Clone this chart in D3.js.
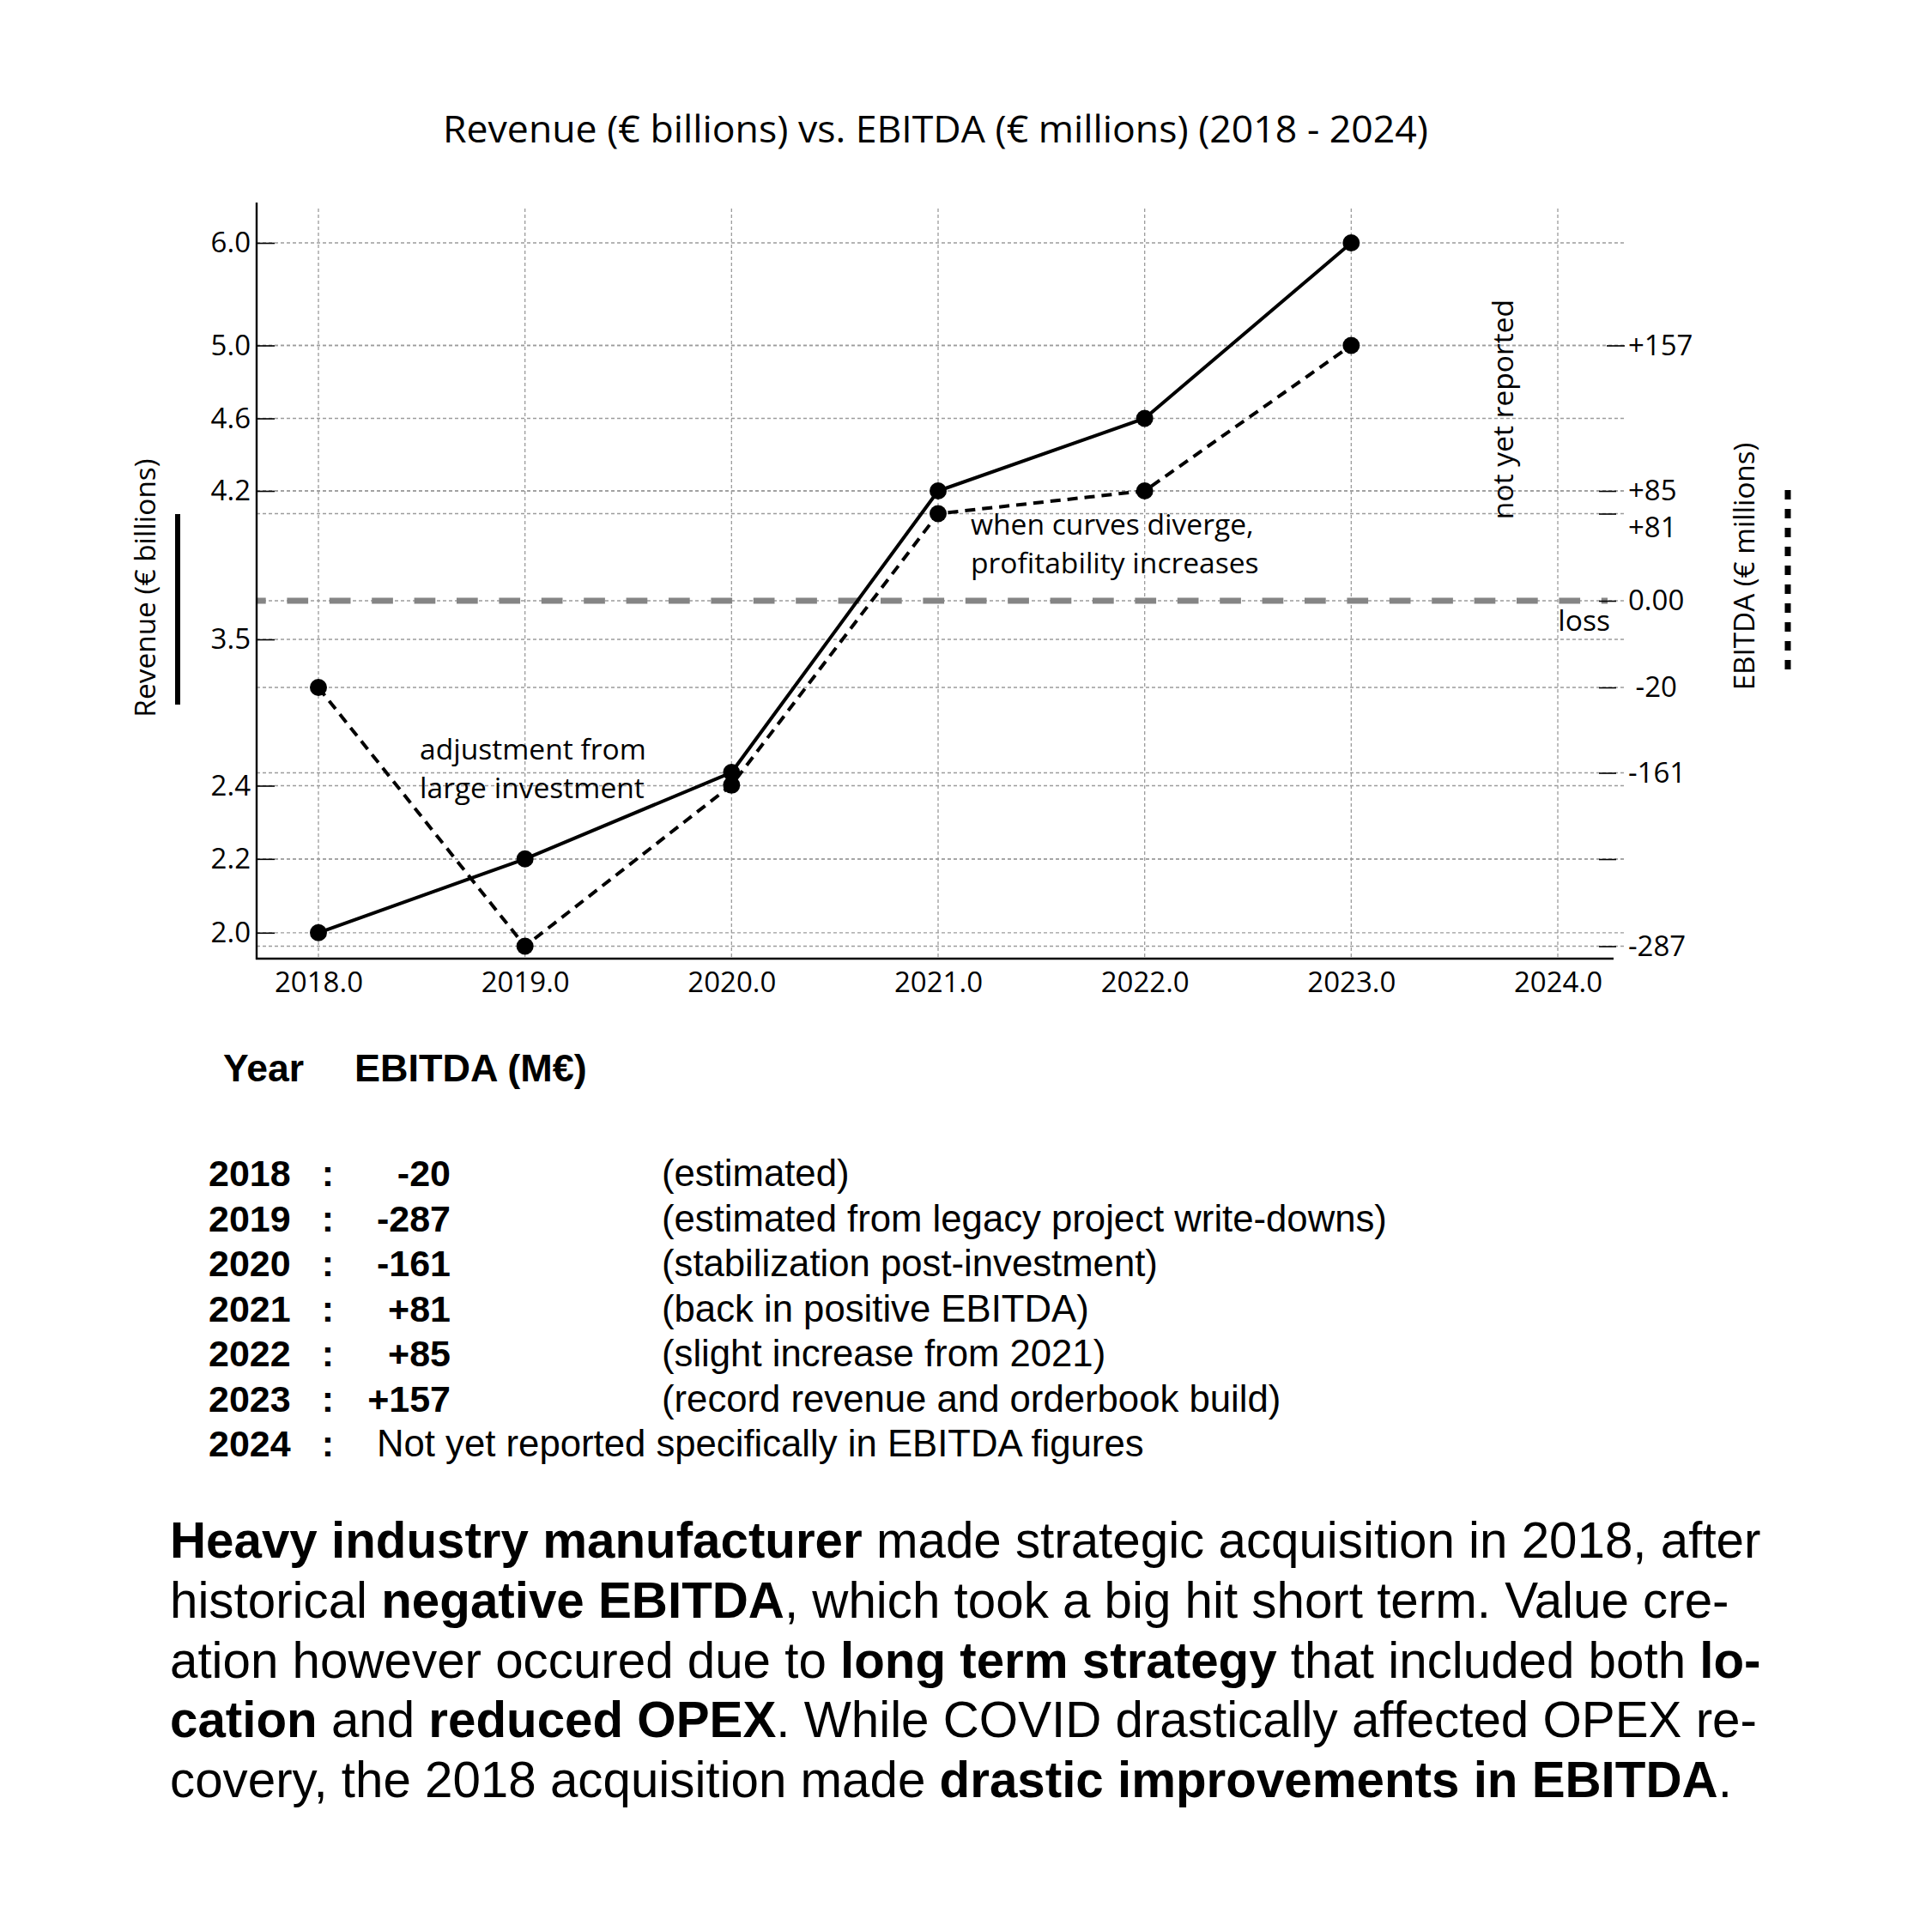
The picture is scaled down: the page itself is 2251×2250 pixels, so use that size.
<!DOCTYPE html>
<html>
<head>
<meta charset="utf-8">
<script src="https://cdn.jsdelivr.net/npm/d3@7"></script>
<style>
  body { margin: 0; background: #ffffff; }
  svg { display: block; }
</style>
</head>
<body>
<script>
// ---------------- DATA ----------------
const years = [2018, 2019, 2020, 2021, 2022, 2023];
const revenue = [2.0, 2.2, 2.5, 4.2, 4.6, 6.0];          // € billions
const ebitda = [-20, -287, -170, 81, 85, 157];            // € millions (as drawn)
const xTicks = [2018, 2019, 2020, 2021, 2022, 2023, 2024];
const revenueTicks = [2.0, 2.2, 2.4, 3.5, 4.2, 4.6, 5.0, 6.0];
const ebitdaTicks = [-287, -224, -161, -20, 0, 81, 85, 157];
const ebitdaTickLabels = ["-287", "", "-161", " -20", "0.00", "+81", "+85", "+157"];

const tableYears = ["2018", "2019", "2020", "2021", "2022", "2023", "2024"];
const tableValues = ["-20", "-287", "-161", "+81", "+85", "+157", ""];
const tableNotes = [
  "(estimated)",
  "(estimated from legacy project write-downs)",
  "(stabilization post-investment)",
  "(back in positive EBITDA)",
  "(slight increase from 2021)",
  "(record revenue and orderbook build)",
  ""
];
const note2024 = "Not yet reported specifically in EBITDA figures";

const titleText = "Revenue (€ billions) vs. EBITDA (€ millions) (2018 - 2024)";
const revenueAxisTitle = "Revenue (€ billions)";
const ebitdaAxisTitle = "EBITDA (€ millions)";
const annotationAdjust = ["adjustment from", "large investment"];
const annotationDiverge = ["when curves diverge,", "profitability increases"];
const annotationNotReported = "not yet reported";
const annotationLoss = "loss";

// paragraph: lines of [text, bold?]
const paragraph = [
  [["Heavy industry manufacturer", true], [" made strategic acquisition in 2018, after", false]],
  [["historical ", false], ["negative EBITDA", true], [", which took a big hit short term. Value cre-", false]],
  [["ation however occured due to ", false], ["long term strategy", true], [" that included both ", false], ["lo-", true]],
  [["cation", true], [" and ", false], ["reduced OPEX", true], [". While COVID drastically affected OPEX re-", false]],
  [["covery, the 2018 acquisition made ", false], ["drastic improvements in EBITDA", true], [".", false]]
];

// ---------------- LAYOUT ----------------
const W = 2251, H = 2250;
const chartFont = "'Open Sans', 'Noto Sans', sans-serif";
const textFont = "'Liberation Sans', Arial, sans-serif";
const plot = { left: 299, right: 1880, top: 236, bottom: 1117, gridRight: 1895 };
const revenueTickPos = [1086.8, 1000.8, 915.5, 745, 572, 487.5, 402.5, 283];
const ebitdaTickPos = [1102.5, 1001, 900.5, 801, 700, 598.5, 572, 402.5];

const svg = d3.select("body").append("svg")
  .attr("width", W).attr("height", H)
  .attr("viewBox", `0 0 ${W} ${H}`);

svg.append("rect").attr("width", W).attr("height", H).attr("fill", "#fff");

const x = d3.scaleLinear().domain([2018, 2024]).range([371, 1815]);
const yRev = d3.scaleLinear().domain(revenueTicks).range(revenueTickPos);
const yEb = d3.scaleLinear().domain(ebitdaTicks).range(ebitdaTickPos);

// Title
svg.append("text")
  .attr("x", 1090).attr("y", 166)
  .attr("text-anchor", "middle")
  .attr("font-family", chartFont).attr("font-size", 44.6)
  .attr("fill", "#000")
  .text(titleText);

// Gridlines
const grid = svg.append("g").attr("stroke", "#9c9c9c").attr("stroke-width", 1.3)
  .attr("stroke-dasharray", "4,3").attr("fill", "none");
grid.selectAll("line.h1").data(revenueTicks).join("line")
  .attr("x1", plot.left).attr("x2", plot.gridRight)
  .attr("y1", d => yRev(d)).attr("y2", d => yRev(d));
grid.selectAll("line.h2").data(ebitdaTicks).join("line")
  .attr("class", "h2")
  .attr("x1", plot.left).attr("x2", plot.gridRight)
  .attr("y1", d => yEb(d)).attr("y2", d => yEb(d));
grid.selectAll("line.v").data(xTicks).join("line")
  .attr("class", "v")
  .attr("x1", d => x(d)).attr("x2", d => x(d))
  .attr("y1", plot.top + 7).attr("y2", plot.bottom);

// Zero (loss) line
svg.append("line")
  .attr("x1", plot.left).attr("x2", 1873)
  .attr("y1", yEb(0)).attr("y2", yEb(0))
  .attr("stroke", "#858585").attr("stroke-width", 7)
  .attr("stroke-dasharray", "24.7,24.7").attr("stroke-dashoffset", 14);

// Left axis (revenue)
const leftAxis = svg.append("g")
  .attr("transform", `translate(${plot.left},0)`)
  .call(d3.axisLeft(yRev).tickValues(revenueTicks).tickFormat(d3.format(".1f"))
    .tickSize(-21).tickPadding(7));
leftAxis.select(".domain").remove();
leftAxis.selectAll(".tick line").attr("stroke", "#000").attr("stroke-width", 1.6);
leftAxis.selectAll(".tick text").attr("font-family", chartFont).attr("font-size", 33).attr("fill", "#000");
svg.append("line")
  .attr("x1", plot.left).attr("x2", plot.left)
  .attr("y1", plot.top).attr("y2", plot.bottom + 1)
  .attr("stroke", "#000").attr("stroke-width", 2.4);

// Right axis (EBITDA)
const rightAxis = svg.append("g")
  .attr("transform", `translate(1883,0)`)
  .call(d3.axisRight(yEb).tickValues(ebitdaTicks)
    .tickFormat((d, i) => ebitdaTickLabels[i])
    .tickSize(-20).tickPadding(14));
rightAxis.select(".domain").remove();
rightAxis.selectAll(".tick line").attr("stroke", "#000").attr("stroke-width", 1.6);
rightAxis.selectAll(".tick line").filter(d => d === 157).attr("x1", -11).attr("x2", 10);
rightAxis.selectAll(".tick text")
  .attr("font-family", chartFont).attr("font-size", 33).attr("fill", "#000")
  .style("white-space", "pre");
rightAxis.selectAll(".tick text").filter(d => d === 81).attr("dy", "0.82em");

// Bottom axis
const bottomAxis = svg.append("g")
  .attr("transform", `translate(0,${plot.bottom})`)
  .call(d3.axisBottom(x).tickValues(xTicks).tickFormat(d3.format(".1f"))
    .tickSize(0).tickPadding(16));
bottomAxis.select(".domain").remove();
bottomAxis.selectAll(".tick text").attr("font-family", chartFont).attr("font-size", 33).attr("fill", "#000");
svg.append("line")
  .attr("x1", plot.left - 1).attr("x2", plot.right)
  .attr("y1", plot.bottom).attr("y2", plot.bottom)
  .attr("stroke", "#000").attr("stroke-width", 2.4);

// Series
const revData = years.map((yr, i) => ({ year: yr, v: revenue[i] }));
const ebData = years.map((yr, i) => ({ year: yr, v: ebitda[i] }));

svg.append("path").datum(ebData)
  .attr("fill", "none").attr("stroke", "#000").attr("stroke-width", 4)
  .attr("stroke-dasharray", "12,8")
  .attr("d", d3.line().x(d => x(d.year)).y(d => yEb(d.v)));
svg.append("path").datum(revData)
  .attr("fill", "none").attr("stroke", "#000").attr("stroke-width", 4)
  .attr("d", d3.line().x(d => x(d.year)).y(d => yRev(d.v)));

svg.append("g").selectAll("circle").data(ebData).join("circle")
  .attr("cx", d => x(d.year)).attr("cy", d => yEb(d.v)).attr("r", 10).attr("fill", "#000");
svg.append("g").selectAll("circle").data(revData).join("circle")
  .attr("cx", d => x(d.year)).attr("cy", d => yRev(d.v)).attr("r", 10).attr("fill", "#000");

// Axis titles + legend bars
svg.append("text")
  .attr("transform", "translate(169,685) rotate(-90)")
  .attr("text-anchor", "middle").attr("dy", "0.35em")
  .attr("font-family", chartFont).attr("font-size", 33.4).attr("fill", "#000")
  .text(revenueAxisTitle);
svg.append("line")
  .attr("x1", 207).attr("x2", 207).attr("y1", 599).attr("y2", 821)
  .attr("stroke", "#000").attr("stroke-width", 6);

svg.append("text")
  .attr("transform", "translate(2032,660) rotate(-90)")
  .attr("text-anchor", "middle").attr("dy", "0.35em")
  .attr("font-family", chartFont).attr("font-size", 33.2).attr("fill", "#000")
  .text(ebitdaAxisTitle);
svg.append("line")
  .attr("x1", 2083).attr("x2", 2083).attr("y1", 571).attr("y2", 788)
  .attr("stroke", "#000").attr("stroke-width", 7).attr("stroke-dasharray", "11,11");

// Annotations
const ann = svg.append("g").attr("font-family", chartFont).attr("font-size", 33.6).attr("fill", "#000");
annotationAdjust.forEach((t, i) => ann.append("text").attr("x", 489).attr("y", 885 + i * 45).text(t));
annotationDiverge.forEach((t, i) => ann.append("text").attr("x", 1131).attr("y", 623 + i * 45).text(t));
ann.append("text")
  .attr("transform", "translate(1753,477) rotate(-90)")
  .attr("text-anchor", "middle").attr("dy", "0.3em")
  .text(annotationNotReported);
ann.append("text").attr("x", 1876).attr("y", 735).attr("text-anchor", "end").text(annotationLoss);

// Table
const tbl = svg.append("g").attr("font-family", textFont).attr("fill", "#000");
tbl.append("text").attr("x", 260).attr("y", 1260).attr("font-size", 44.5).attr("font-weight", "bold").text("Year");
tbl.append("text").attr("x", 413).attr("y", 1260).attr("font-size", 45).attr("font-weight", "bold").text("EBITDA (M€)");
tableYears.forEach((yr, i) => {
  const by = 1382 + i * 52.5;
  tbl.append("text").attr("x", 243).attr("y", by).attr("font-size", 43).attr("font-weight", "bold").text(yr);
  tbl.append("text").attr("x", 382).attr("y", by).attr("text-anchor", "middle").attr("font-size", 43).attr("font-weight", "bold").text(":");
  if (tableValues[i]) {
    tbl.append("text").attr("x", 525).attr("y", by).attr("text-anchor", "end").attr("font-size", 43).attr("font-weight", "bold").text(tableValues[i]);
    tbl.append("text").attr("x", 771).attr("y", by).attr("font-size", 43.7).text(tableNotes[i]);
  } else {
    tbl.append("text").attr("x", 439).attr("y", by).attr("font-size", 43.7).text(note2024);
  }
});

// Paragraph
const para = svg.append("g").attr("font-family", textFont).attr("font-size", 58.3).attr("fill", "#000");
paragraph.forEach((line, i) => {
  const t = para.append("text").attr("x", 198).attr("y", 1815 + i * 69.75).style("white-space", "pre");
  line.forEach(([s, b]) => t.append("tspan").attr("font-weight", b ? "bold" : "normal").text(s));
});
</script>
</body>
</html>
